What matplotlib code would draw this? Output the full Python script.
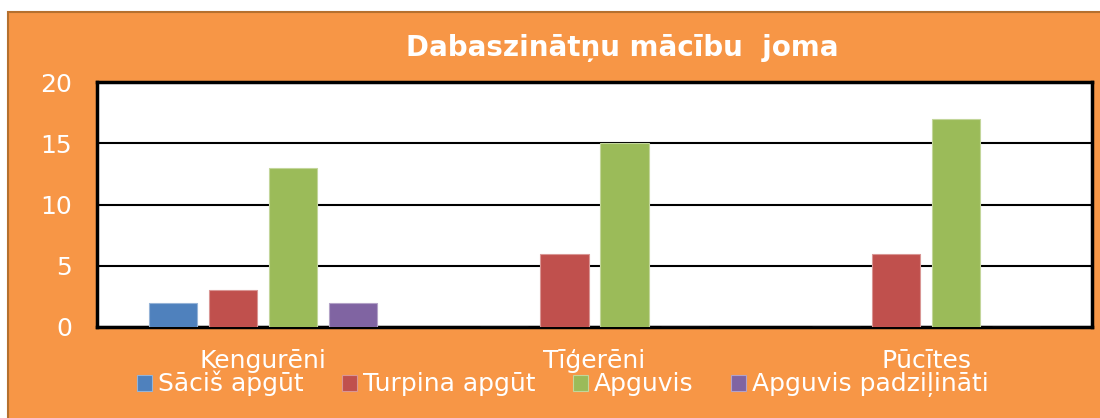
import numpy as np
import matplotlib.pyplot as plt
from matplotlib.patches import Rectangle

# Data
categories = ["Kengurēni", "Tīģerēni", "Pūcītes"]
series_names = ["Sāciš apgūt", "Turpina apgūt", "Apguvis", "Apguvis padziļināti"]
sacis = [2, 0, 0]
turpina = [3, 6, 6]
apguvis = [13, 15, 17]
padzilinati = [2, 0, 0]

colors = ["#4F81BD", "#C0504D", "#9BBB59", "#8064A2"]
edges = ["#95B3D7", "#D99694", "#C3D69B", "#B3A2C7"]
orange = "#F79646"

plt.rcParams['font.family'] = ['DejaVu Sans']

fig = plt.figure(figsize=(11, 4.18), dpi=100)
fig.patch.set_facecolor("white")
# orange chart area with brown frame (white strip on top)
fig.patches.append(Rectangle((8 / 1100, -0.01), 1.02, 1 - 12 / 418 + 0.01,
                             transform=fig.transFigure, facecolor=orange,
                             edgecolor="#B5702E", linewidth=1.5, zorder=-5))

ax = fig.add_axes([97 / 1100, 91 / 418, 995 / 1100, 245 / 418])
ax.set_zorder(2)
ax.set_facecolor("white")

x = np.arange(len(categories))
width = 0.145
step = 0.181
all_vals = [sacis, turpina, apguvis, padzilinati]
for i, (name, vals) in enumerate(zip(series_names, all_vals)):
    offs = (i - 1.5) * step
    ax.bar(x + offs, vals, width, color=colors[i], edgecolor=edges[i],
           linewidth=0.8, label=name, zorder=3)

ax.set_xlim(-0.5, 2.5)
ax.set_ylim(0, 20)
ax.set_yticks([0, 5, 10, 15, 20])
ax.set_xticks(x)
ax.set_xticklabels(categories)
ax.yaxis.grid(True, color="black", linewidth=1.5, zorder=1)
ax.set_axisbelow(True)
ax.tick_params(axis='both', length=0, colors="white", labelsize=18)
ax.tick_params(axis='y', pad=18)
ax.tick_params(axis='x', pad=16)
for s in ax.spines.values():
    s.set_color("black")
    s.set_linewidth(2.5)

fig.text(0.566, 0.885, "Dabaszinātņu mācību  joma", ha="center", va="center",
         color="white", fontsize=20, fontweight="bold", zorder=3)

leg = fig.legend(loc="center", bbox_to_anchor=(0.512, 0.081), ncol=4,
                 frameon=False, fontsize=18, handlelength=0.6,
                 handleheight=0.6, handletextpad=0.25, columnspacing=1.5)
leg.set_zorder(3)
for t in leg.get_texts():
    t.set_color("white")

fig.savefig("out.png", dpi=100, facecolor=fig.get_facecolor())
